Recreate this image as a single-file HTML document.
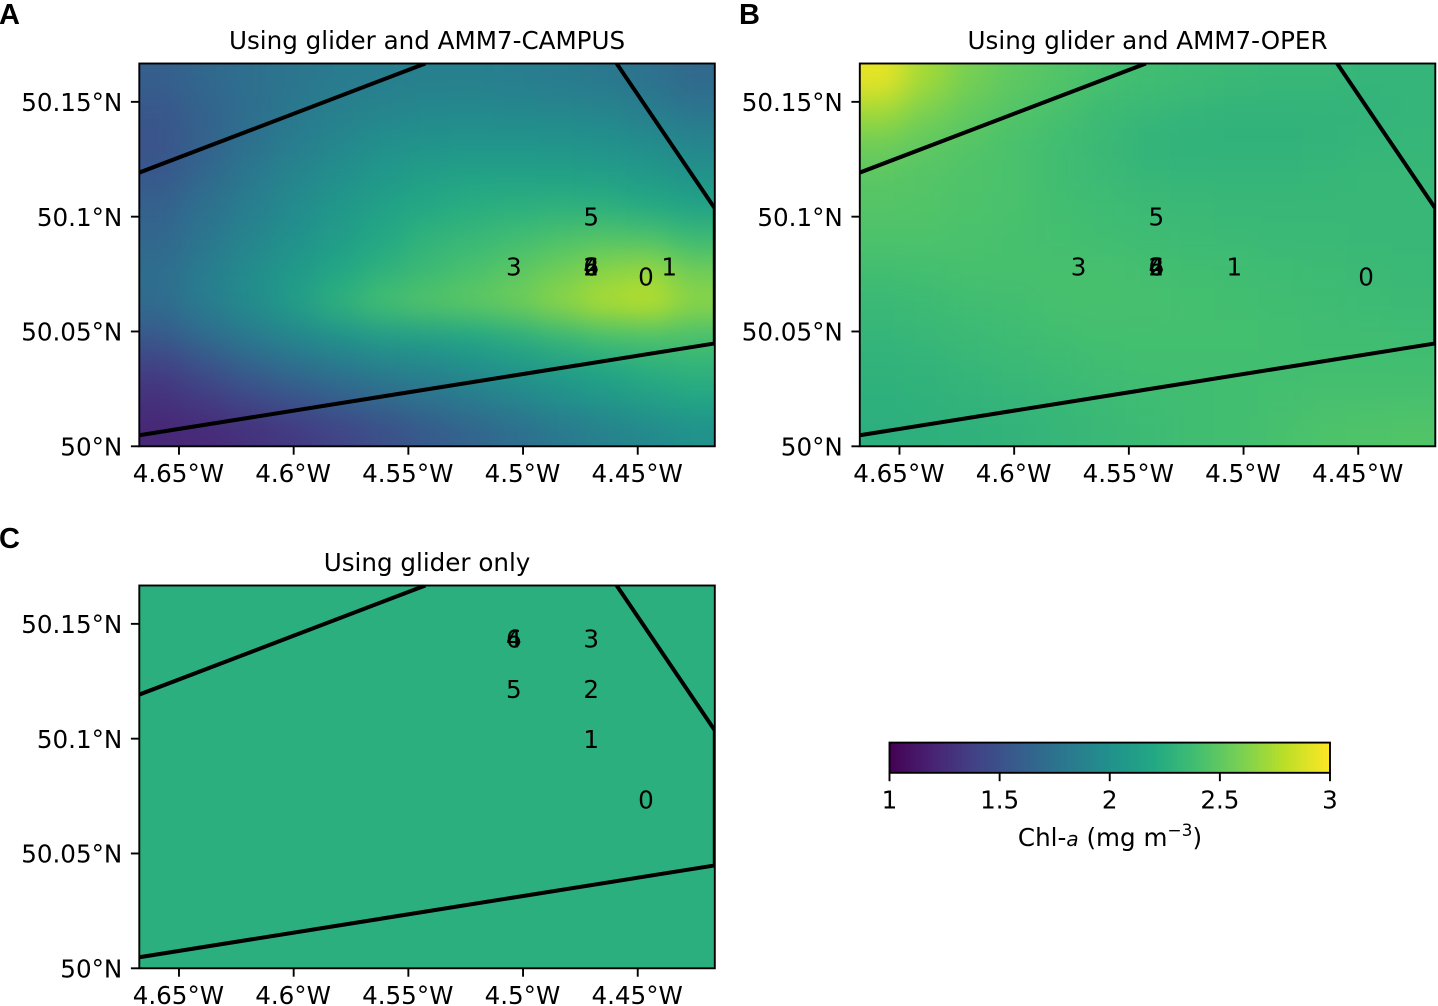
<!DOCTYPE html>
<html lang="en">
<head>
<meta charset="utf-8">
<title>Chl-a maps</title>
<style>
html,body{margin:0;padding:0;background:#fff;}
#chart{display:block;width:1438px;height:1006px;}
text{font-family:"DejaVu Sans",sans-serif;fill:#000;}
.panel-letter{font-family:"Liberation Sans",sans-serif;font-weight:700;font-size:29px;}
</style>
</head>
<body>
<svg id="chart" xmlns="http://www.w3.org/2000/svg" width="1438" height="1006" viewBox="0 0 1438 1006">
  <defs>
    <filter id="smooth" filterUnits="userSpaceOnUse" x="-150" y="-150" width="1800" height="1350" color-interpolation-filters="sRGB">
      <feGaussianBlur stdDeviation="15"/>
    </filter>
  </defs>
  <rect x="0" y="0" width="1438" height="1006" fill="#ffffff"/>
  <text class="panel-letter" x="-1" y="24">A</text>
  <text class="panel-letter" x="739" y="24">B</text>
  <text class="panel-letter" x="-1" y="548">C</text>
  <g id="panels"></g>
  <g id="colorbar"></g>
</svg>
<script>
// ---- Axis data ----
const lonTicks = [4.65, 4.6, 4.55, 4.5, 4.45];
const lonTickLabels = ["4.65°W", "4.6°W", "4.55°W", "4.5°W", "4.45°W"];
const latTicks = [50, 50.05, 50.1, 50.15];
const latTickLabels = ["50°N", "50.05°N", "50.1°N", "50.15°N"];
const colorbarTicks = [1, 1.5, 2, 2.5, 3];
const colorbarTickLabels = ["1", "1.5", "2", "2.5", "3"];
const viridisStops = ["#440154","#482475","#414487","#355f8d","#2a788e","#21918c","#22a884","#44bf70","#7ad151","#bddf26","#fde725"];

// ---- Coastline (lon °W, lat °N) ----
const coastNorth = [[4.6673,50.1192],[4.5426,50.1667]];
const coastSouthEast = [[4.4592,50.1667],[4.4164,50.1036],[4.4164,50.0448],[4.6673,50.0048]];

// ---- Chl-a fields (rows north to south, columns west to east) ----
const fieldA = [
[1.60,1.67,1.73,1.78,1.82,1.85,1.86,1.86,1.85,1.82,1.80,1.75,1.68],
[1.54,1.63,1.72,1.80,1.86,1.90,1.93,1.94,1.93,1.92,1.90,1.85,1.78],
[1.52,1.62,1.74,1.84,1.92,1.98,2.02,2.03,2.03,2.02,2.00,1.96,1.90],
[1.55,1.67,1.80,1.90,1.98,2.06,2.12,2.15,2.15,2.14,2.12,2.08,2.02],
[1.62,1.74,1.85,1.95,2.05,2.14,2.20,2.24,2.26,2.27,2.26,2.22,2.16],
[1.66,1.78,1.90,2.00,2.10,2.20,2.30,2.33,2.38,2.43,2.46,2.44,2.36],
[1.72,1.84,1.96,2.07,2.18,2.28,2.35,2.42,2.48,2.56,2.64,2.68,2.56],
[1.70,1.84,1.96,2.10,2.28,2.40,2.46,2.50,2.56,2.66,2.76,2.80,2.66],
[1.57,1.70,1.82,1.93,2.02,2.10,2.14,2.20,2.26,2.34,2.42,2.44,2.42],
[1.38,1.50,1.62,1.72,1.80,1.87,1.92,1.98,2.05,2.12,2.20,2.26,2.30],
[1.28,1.35,1.44,1.52,1.60,1.68,1.75,1.82,1.90,1.98,2.05,2.12,2.18],
[1.22,1.24,1.28,1.34,1.40,1.48,1.56,1.64,1.72,1.80,1.87,1.94,2.00]
];
const fieldB = [
[2.93,2.72,2.58,2.50,2.45,2.41,2.38,2.36,2.34,2.33,2.33,2.31,2.31],
[2.72,2.60,2.51,2.45,2.41,2.36,2.33,2.31,2.30,2.30,2.30,2.30,2.31],
[2.56,2.50,2.46,2.42,2.38,2.34,2.30,2.29,2.29,2.29,2.30,2.31,2.32],
[2.48,2.46,2.44,2.42,2.38,2.35,2.32,2.31,2.31,2.31,2.32,2.33,2.33],
[2.46,2.45,2.43,2.42,2.39,2.37,2.35,2.34,2.33,2.33,2.33,2.33,2.33],
[2.43,2.43,2.42,2.41,2.40,2.38,2.37,2.36,2.35,2.34,2.34,2.33,2.33],
[2.39,2.40,2.41,2.41,2.41,2.41,2.40,2.39,2.38,2.37,2.36,2.35,2.34],
[2.34,2.36,2.38,2.39,2.41,2.41,2.41,2.40,2.39,2.38,2.37,2.36,2.35],
[2.31,2.33,2.35,2.37,2.39,2.40,2.40,2.40,2.40,2.39,2.38,2.38,2.37],
[2.29,2.30,2.32,2.34,2.36,2.38,2.39,2.39,2.39,2.39,2.39,2.39,2.39],
[2.27,2.28,2.30,2.31,2.33,2.35,2.37,2.38,2.39,2.40,2.41,2.41,2.41],
[2.26,2.27,2.28,2.30,2.32,2.34,2.36,2.38,2.39,2.41,2.43,2.44,2.45]
];
const fieldC = [
[2.26,2.26,2.26,2.26,2.26,2.26,2.26,2.26,2.26,2.26,2.26,2.26,2.26],
[2.26,2.26,2.26,2.26,2.26,2.26,2.26,2.26,2.26,2.26,2.26,2.26,2.26],
[2.26,2.26,2.26,2.26,2.26,2.26,2.26,2.26,2.26,2.26,2.26,2.26,2.26],
[2.26,2.26,2.26,2.26,2.26,2.26,2.26,2.26,2.26,2.26,2.26,2.26,2.26],
[2.26,2.26,2.26,2.26,2.26,2.26,2.26,2.26,2.26,2.26,2.26,2.26,2.26],
[2.26,2.26,2.26,2.26,2.26,2.26,2.26,2.26,2.26,2.26,2.26,2.26,2.26],
[2.26,2.26,2.26,2.26,2.26,2.26,2.26,2.26,2.26,2.26,2.26,2.26,2.26],
[2.26,2.26,2.26,2.26,2.26,2.26,2.26,2.26,2.26,2.26,2.26,2.26,2.26],
[2.26,2.26,2.26,2.26,2.26,2.26,2.26,2.26,2.26,2.26,2.26,2.26,2.26],
[2.26,2.26,2.26,2.26,2.26,2.26,2.26,2.26,2.26,2.26,2.26,2.26,2.26],
[2.26,2.26,2.26,2.26,2.26,2.26,2.26,2.26,2.26,2.26,2.26,2.26,2.26],
[2.26,2.26,2.26,2.26,2.26,2.26,2.26,2.26,2.26,2.26,2.26,2.26,2.26]
];

// ---- Profile number markers: digit, lon °W, lat °N ----
const markersA = [["2",4.4703,50.0783],["4",4.4703,50.0783],["6",4.4703,50.0783],["3",4.504,50.0783],["5",4.4703,50.1001],["0",4.4464,50.074],["1",4.4363,50.0783]];
const markersB = [["2",4.538,50.0783],["4",4.538,50.0783],["6",4.538,50.0783],["3",4.5719,50.0783],["5",4.538,50.1001],["0",4.4466,50.074],["1",4.504,50.0783]];
const markersC = [["4",4.504,50.1436],["6",4.504,50.1436],["3",4.4703,50.1436],["5",4.504,50.1216],["2",4.4703,50.1216],["1",4.4703,50.0999],["0",4.4464,50.0735]];

const panelTitles = ["Using glider and AMM7-CAMPUS", "Using glider and AMM7-OPER", "Using glider only"];
const panelFields = [fieldA, fieldB, fieldC];
const panelMarkers = [markersA, markersB, markersC];
const panelOrigins = [[139.3, 63.5], [859.8, 63.5], [139.3, 585.5]];

// ---- Shared scales ----
const SVG_NS = "http://www.w3.org/2000/svg";
const lonWest = 4.6673, lonEast = 4.4164, latSouth = 50, latNorth = 50.1667;
const plotW = 575.5, plotH = 382.8;
const cbLeft = 889.5, cbRight = 1330, cbTop = 742.6, cbBottom = 772.8;
const valueMin = 1, valueMax = 3;
const fontSize = 24.6;

function make(tag, attrs, parent) {
  const n = document.createElementNS(SVG_NS, tag);
  for (const k in attrs) n.setAttribute(k, attrs[k]);
  parent.appendChild(n);
  return n;
}
function hexToRgb(h) {
  return [parseInt(h.slice(1,3),16), parseInt(h.slice(3,5),16), parseInt(h.slice(5,7),16)];
}
function viridis(v) {
  const t = Math.max(0, Math.min(1, (v - valueMin) / (valueMax - valueMin))) * (viridisStops.length - 1);
  const i = Math.min(Math.floor(t), viridisStops.length - 2);
  const f = t - i, a = hexToRgb(viridisStops[i]), b = hexToRgb(viridisStops[i + 1]);
  return "rgb(" + a.map((c, k) => Math.round(c + (b[k] - c) * f)).join(",") + ")";
}

function drawPanel(index) {
  const ox = panelOrigins[index][0], oy = panelOrigins[index][1];
  const xScale = lon => ox + (lonWest - lon) / (lonWest - lonEast) * plotW;
  const yScale = lat => oy + plotH - (lat - latSouth) / (latNorth - latSouth) * plotH;
  const root = document.getElementById("panels");

  const panel = make("g", {}, root);
  
  

  const clipId = "clip" + index;
  const clip = make("clipPath", {id: clipId}, panel);
  make("rect", {x: ox, y: oy, width: plotW, height: plotH}, clip);

  // heatmap cells
  const clipped = make("g", {"clip-path": "url(#" + clipId + ")"}, panel);
  const heat = make("g", {filter: "url(#smooth)"}, clipped);
  
  
  const field = panelFields[index];
  const nRows = field.length, nCols = field[0].length;
  const dLon = (lonWest - lonEast) / nCols, dLat = (latNorth - latSouth) / nRows;
  field.forEach((row, r) => {
    row.forEach((value, c) => {
      let x0 = xScale(lonWest - c * dLon), x1 = xScale(lonWest - (c + 1) * dLon);
      let y0 = yScale(latNorth - r * dLat), y1 = yScale(latNorth - (r + 1) * dLat);
      if (c === 0) x0 -= 70;
      if (c === nCols - 1) x1 += 70;
      if (r === 0) y0 -= 70;
      if (r === nRows - 1) y1 += 70;
      const cell = make("rect", {x: x0, y: y0, width: x1 - x0 + 0.6, height: y1 - y0 + 0.6, fill: viridis(value)}, heat);
      
      
    });
  });

  // coastline
  const coast = make("g", {"clip-path": "url(#" + clipId + ")", fill: "none", stroke: "#000", "stroke-width": 4}, panel);
  
  
  [coastNorth, coastSouthEast].forEach(line => {
    const seg = make("polyline", {points: line.map(p => xScale(p[0]) + "," + yScale(p[1])).join(" ")}, coast);
    
    
  });

  // profile number markers
  panelMarkers[index].forEach(m => {
    const t = make("text", {x: xScale(m[1]), y: yScale(m[2]) + 8.9, "text-anchor": "middle", "font-size": fontSize}, panel);
    t.textContent = m[0];
    
    
  });

  // frame
  const frame = make("rect", {x: ox, y: oy, width: plotW, height: plotH, fill: "none", stroke: "#000", "stroke-width": 1.9}, panel);
  
  

  // x axis
  lonTicks.forEach((lon, i) => {
    const tx = xScale(lon), by = oy + plotH;
    const tick = make("line", {x1: tx, x2: tx, y1: by, y2: by + 8.4, stroke: "#000", "stroke-width": 1.9}, panel);
    
    
    const label = make("text", {x: tx - 0.6, y: by + 35.8, "text-anchor": "middle", "font-size": fontSize}, panel);
    label.textContent = lonTickLabels[i];
    
    
  });

  // y axis
  latTicks.forEach((lat, i) => {
    const ty = yScale(lat);
    const tick = make("line", {x1: ox - 8.4, x2: ox, y1: ty, y2: ty, stroke: "#000", "stroke-width": 1.9}, panel);
    
    
    const label = make("text", {x: ox - 17, y: ty + 9.2, "text-anchor": "end", "font-size": fontSize}, panel);
    label.textContent = latTickLabels[i];
    
    
  });

  // title
  const title = make("text", {x: ox + plotW / 2, y: oy - 14.7, "text-anchor": "middle", "font-size": fontSize}, panel);
  title.textContent = panelTitles[index];
  
  
}

function drawColorbar() {
  const bar = document.getElementById("colorbar");
  const cbX = v => cbLeft + (v - valueMin) / (valueMax - valueMin) * (cbRight - cbLeft);
  const steps = 128;
  for (let i = 0; i < steps; i++) {
    const v0 = valueMin + (valueMax - valueMin) * i / steps;
    const v1 = valueMin + (valueMax - valueMin) * (i + 1) / steps;
    const swatch = make("rect", {x: cbX(v0), y: cbTop, width: cbX(v1) - cbX(v0) + 0.5, height: cbBottom - cbTop, fill: viridis((v0 + v1) / 2)}, bar);
    
    
  }
  const frame = make("rect", {x: cbLeft, y: cbTop, width: cbRight - cbLeft, height: cbBottom - cbTop, fill: "none", stroke: "#000", "stroke-width": 1.9}, bar);
  
  
  colorbarTicks.forEach((v, i) => {
    const tx = cbX(v);
    const tick = make("line", {x1: tx, x2: tx, y1: cbBottom, y2: cbBottom + 8.4, stroke: "#000", "stroke-width": 1.9}, bar);
    
    
    const label = make("text", {x: tx, y: cbBottom + 35.6, "text-anchor": "middle", "font-size": fontSize}, bar);
    label.textContent = colorbarTickLabels[i];
    
    
  });
  const axisLabel = make("text", {x: 1110, y: 846, "text-anchor": "middle", "font-size": fontSize}, bar);
  
  
  const part1 = make("tspan", {}, axisLabel);
  part1.textContent = "Chl-";
  const part2 = make("tspan", {"font-style": "italic", "font-size": 20}, axisLabel);
  part2.textContent = "a";
  const part3 = make("tspan", {}, axisLabel);
  part3.textContent = " (mg m";
  const part4 = make("tspan", {"font-size": 17, dy: -10}, axisLabel);
  part4.textContent = "−3";
  const part5 = make("tspan", {dy: 10}, axisLabel);
  part5.textContent = ")";
}

panelFields.forEach((f, i) => drawPanel(i));
drawColorbar();
</script>
</body>
</html>
